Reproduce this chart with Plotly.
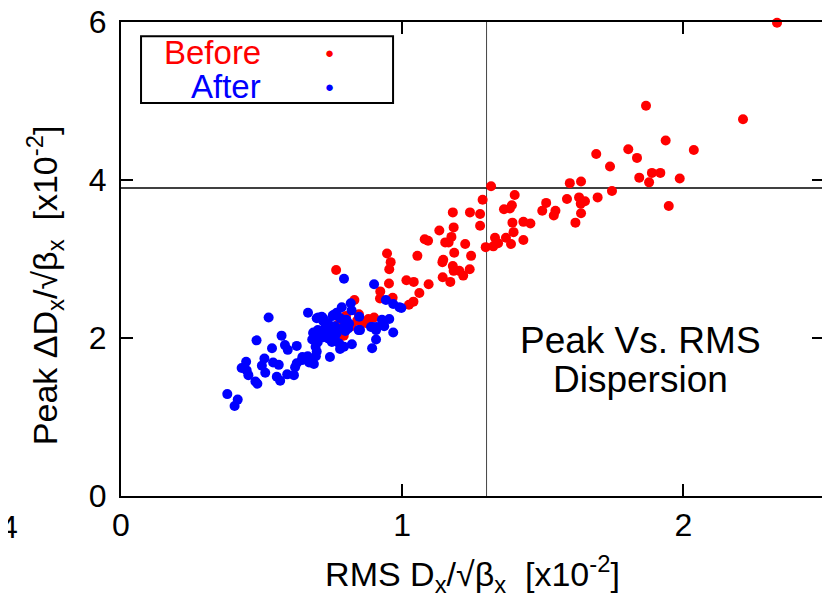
import plotly.graph_objects as go

# ---- data (units of 1e-2) ----
before_x = [2.333, 1.867, 2.212, 1.937, 2.037, 1.690, 1.804, 1.835, 1.739, 1.843, 1.888, 1.918,
            1.878, 1.987, 1.948, 1.596, 1.636, 1.316, 1.746, 1.695, 1.629, 1.650, 1.635, 1.586,
            1.636, 1.616, 1.512, 1.498, 1.545, 1.539, 1.400, 1.390, 1.362, 1.383, 1.286, 1.277,
            1.277, 1.392, 1.431, 1.456, 1.396, 1.431, 1.330, 1.369, 1.341, 1.387, 1.297, 1.324,
            1.180, 1.241, 1.132, 1.183, 1.175, 1.080, 1.092, 1.153, 1.165, 1.224, 1.185, 1.245,
            1.146, 1.143, 1.180, 1.183, 1.203, 1.217, 1.240, 1.144, 1.171, 1.054, 0.946, 0.959,
            0.954, 0.953, 0.922, 0.921, 0.966, 0.765, 1.015, 1.041, 1.094, 1.061, 1.040, 1.024,
            0.830, 0.846, 0.900, 0.860, 0.792, 0.880, 0.870, 0.840, 0.800, 0.780, 0.770, 0.820,
            0.760]
before_y = [5.99, 4.94, 4.77, 4.50, 4.38, 4.33, 4.39, 4.28, 4.17, 4.03, 4.09, 4.09,
            3.97, 4.02, 3.67, 3.96, 3.98, 3.92, 3.86, 3.78, 3.78, 3.73, 3.70, 3.76,
            3.58, 3.46, 3.71, 3.61, 3.61, 3.55, 3.81, 3.68, 3.63, 3.64, 3.75, 3.57,
            3.42, 3.46, 3.47, 3.45, 3.34, 3.24, 3.27, 3.27, 3.20, 3.19, 3.15, 3.16,
            3.59, 3.59, 3.36, 3.40, 3.28, 3.25, 3.23, 3.21, 3.21, 3.19, 3.08, 3.04,
            2.99, 2.96, 2.91, 2.85, 2.85, 2.79, 2.87, 2.77, 2.71, 3.04, 3.07, 2.96,
            2.87, 2.69, 2.59, 2.50, 2.51, 2.86, 2.73, 2.71, 2.68, 2.57, 2.46, 2.42,
            2.48, 2.30, 2.26, 2.21, 2.03, 2.24, 2.19, 2.22, 2.28, 2.22, 2.16, 2.15,
            2.05]

after_x = [0.378, 0.415, 0.404, 0.482, 0.525, 0.429, 0.445, 0.453, 0.447, 0.478, 0.485, 0.510,
           0.501, 0.513, 0.537, 0.541, 0.561, 0.554, 0.566, 0.571, 0.583, 0.593, 0.625, 0.591,
           0.615, 0.619, 0.625, 0.643, 0.645, 0.664, 0.669, 0.686, 0.693, 0.696, 0.692, 0.684,
           0.680, 0.665, 0.696, 0.714, 0.720, 0.725, 0.720, 0.739, 0.761, 0.767, 0.743, 0.779,
           0.776, 0.793, 0.755, 0.767, 0.785, 0.817, 0.820, 0.802, 0.808, 0.847, 0.850, 0.821,
           0.900, 0.895, 0.907, 0.928, 0.954, 0.936, 0.907, 0.893, 0.968, 0.942, 0.968, 0.990,
           0.997, 0.702, 0.719, 0.753, 0.736, 0.801, 0.811, 0.791, 0.798, 0.845, 0.889, 0.909,
           0.684, 0.755, 0.700, 0.710, 0.730, 0.760, 0.780, 0.740, 0.750, 0.700, 0.793]
after_y = [1.29, 1.22, 1.14, 1.97, 2.26, 1.62, 1.70, 1.53, 1.59, 1.45, 1.42, 1.74,
           1.65, 1.56, 1.87, 1.69, 1.66, 1.51, 1.46, 2.03, 1.91, 1.85, 1.90, 1.54,
           1.53, 1.63, 1.68, 1.72, 1.76, 1.77, 1.69, 1.67, 1.77, 1.83, 1.89, 2.07,
           1.98, 2.32, 2.25, 2.27, 2.21, 2.12, 2.01, 1.99, 1.99, 2.06, 1.76, 1.86,
           1.93, 2.75, 2.29, 2.32, 2.39, 2.44, 2.35, 2.22, 2.12, 2.27, 2.10, 1.92,
           2.68, 2.14, 2.10, 2.23, 2.24, 2.15, 1.98, 1.87, 2.07, 2.48, 2.43, 2.39,
           2.38, 2.26, 2.25, 2.28, 2.19, 2.23, 2.18, 2.14, 2.09, 2.10, 2.14, 2.14,
           2.06, 2.06, 1.95, 2.02, 2.05, 2.15, 2.25, 2.10, 1.95, 2.10, 1.89]

x_ticks = [0, 1, 2]
y_ticks = [0, 2, 4, 6]
x_range = [0, 2.5]
y_range = [0, 6]
rms_cut = 1.3
peak_cut = 3.9

FONT = "Liberation Sans, Arial, Helvetica, sans-serif"
NB = "\u00a0"

fig = go.Figure()
fig.add_trace(go.Scatter(x=before_x, y=before_y, mode="markers", name="Before",
                         marker=dict(color="#ff0000", size=10, line=dict(width=0)),
                         cliponaxis=False))
fig.add_trace(go.Scatter(x=after_x, y=after_y, mode="markers", name="After",
                         marker=dict(color="#0000ff", size=10, line=dict(width=0)),
                         cliponaxis=False))

# reference lines
fig.add_shape(type="line", xref="x", yref="y", x0=rms_cut, x1=rms_cut, y0=y_range[0], y1=y_range[1],
              line=dict(color="#444444", width=1), layer="below")
fig.add_shape(type="line", xref="x", yref="y", x0=x_range[0], x1=x_range[1], y0=peak_cut, y1=peak_cut,
              line=dict(color="#000000", width=1.5), layer="below")

# legend box (gnuplot style)
fig.add_shape(type="rect", xref="paper", yref="paper", x0=0.0285, x1=0.387, y0=0.829, y1=0.970,
              line=dict(color="black", width=2), fillcolor="white", layer="above")
fig.add_annotation(xref="paper", yref="paper", x=0.202, y=0.936, text="Before", showarrow=False,
                   xanchor="right", yanchor="middle", font=dict(family=FONT, size=33, color="#ff0000"))
fig.add_annotation(xref="paper", yref="paper", x=0.202, y=0.864, text="After", showarrow=False,
                   xanchor="right", yanchor="middle", font=dict(family=FONT, size=33, color="#0000ff"))
fig.add_annotation(xref="paper", yref="paper", x=0.296, y=0.936, text="●", showarrow=False,
                   xanchor="center", yanchor="middle", font=dict(family=FONT, size=15, color="#ff0000"))
fig.add_annotation(xref="paper", yref="paper", x=0.296, y=0.864, text="●", showarrow=False,
                   xanchor="center", yanchor="middle", font=dict(family=FONT, size=15, color="#0000ff"))

# in-plot label (two lines)
fig.add_annotation(xref="paper", yref="paper", x=0.739, y=0.329,
                   text="Peak Vs. RMS", showarrow=False,
                   xanchor="center", yanchor="middle",
                   font=dict(family=FONT, size=37, color="black"))
fig.add_annotation(xref="paper", yref="paper", x=0.739, y=0.245,
                   text="Dispersion", showarrow=False,
                   xanchor="center", yanchor="middle",
                   font=dict(family=FONT, size=37, color="black"))

# y-axis title (placed as rotated text to match its offset along the axis)
fig.add_annotation(xref="paper", yref="paper", x=-0.108, y=0.445,
                   text="Peak ΔD<sub>x</sub>/√β<sub>x</sub>" + NB + NB + "[x10<sup>-2</sup>]",
                   textangle=-90, showarrow=False, xanchor="center", yanchor="middle",
                   font=dict(family=FONT, size=34, color="black"))

# stray cut-off tick label at the left edge
fig.add_annotation(xref="paper", yref="paper", x=-0.143, y=-0.066, text="4", showarrow=False,
                   xanchor="right", yanchor="middle", font=dict(family=FONT, size=32, color="black"))

axis_common = dict(showgrid=False, zeroline=False, showline=True, linecolor="black", linewidth=2,
                   mirror="ticks", ticks="inside", ticklen=12, tickwidth=2, tickcolor="black",
                   ticklabeloverflow="allow", automargin=False,
                   tickfont=dict(family=FONT, size=32, color="black"))

fig.update_xaxes(range=x_range, tickvals=x_ticks, ticktext=[str(v) for v in x_ticks],
                 title=dict(text="RMS D<sub>x</sub>/√β<sub>x</sub>" + NB + NB + "[x10<sup>-2</sup>]",
                            font=dict(family=FONT, size=34, color="black"), standoff=20),
                 **axis_common)
fig.update_yaxes(range=y_range, tickvals=y_ticks, ticktext=[str(v) for v in y_ticks],
                 ticklabelstandoff=6,
                 **axis_common)

fig.update_layout(width=830, height=603, margin=dict(l=113, r=14, t=14, b=115, pad=0),
                  plot_bgcolor="white", paper_bgcolor="white", showlegend=False,
                  font=dict(family=FONT, color="black"))

fig.write_html("out.html")
